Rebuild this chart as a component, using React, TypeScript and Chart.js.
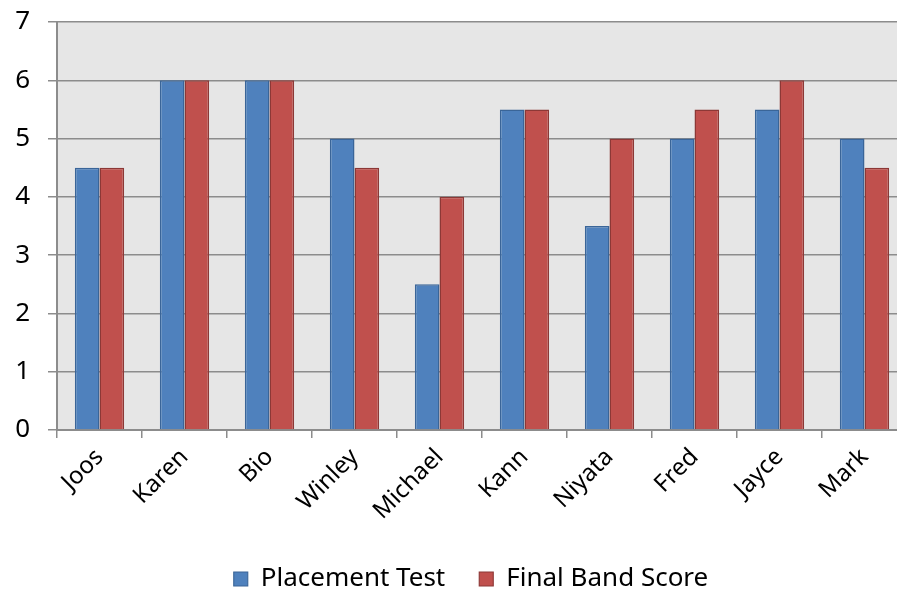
import React, { useEffect, useRef } from "react";
import { Chart, registerables } from "chart.js";

Chart.register(...registerables);

const categories = ["Joos", "Karen", "Bio", "Winley", "Michael", "Kann", "Niyata", "Fred", "Jayce", "Mark"];
const placementTest = [4.5, 6, 6, 5, 2.5, 5.5, 3.5, 5, 5.5, 5];
const finalBandScore = [4.5, 6, 6, 4.5, 4, 5.5, 5, 5.5, 6, 4.5];
const yTicks = [0, 1, 2, 3, 4, 5, 6, 7];

const FONT = "'Noto Sans', sans-serif";

const plotBg = {
  id: "plotBg",
  beforeDraw(chart: any) {
    const { ctx, chartArea } = chart;
    ctx.save();
    ctx.fillStyle = "#e6e6e6";
    ctx.fillRect(chartArea.left, chartArea.top, chartArea.right - chartArea.left, chartArea.bottom - chartArea.top);
    ctx.restore();
  },
};

const legendShift = {
  id: "legendShift",
  afterLayout(chart: any) {
    const lg = chart.legend;
    if (lg) {
      lg.left -= 11;
      lg.right -= 11;
    }
  },
};

export default function App() {
  const ref = useRef<HTMLCanvasElement>(null);
  useEffect(() => {
    const chart = new Chart(ref.current!, {
      type: "bar",
      data: {
        labels: categories,
        datasets: [
          {
            label: "Placement Test",
            data: placementTest,
            backgroundColor: "#4f81bd",
            borderColor: "#3a6598",
            borderWidth: { top: 1.5, left: 1.5, right: 1.5, bottom: 0 },
            borderSkipped: "bottom",
          },
          {
            label: "Final Band Score",
            data: finalBandScore,
            backgroundColor: "#c0504d",
            borderColor: "#8c3836",
            borderWidth: { top: 1.5, left: 1.5, right: 1.5, bottom: 0 },
            borderSkipped: "bottom",
          },
        ],
      },
      options: {
        animation: false,
        responsive: false,
        maintainAspectRatio: false,
        layout: { padding: { top: 22, left: 0, right: 0, bottom: -12 } },
        datasets: { bar: { categoryPercentage: 0.58, barPercentage: 1 } },
        scales: {
          x: {
            offset: true,
            grid: { display: true, drawOnChartArea: false, drawTicks: true, tickLength: 8, offset: true, color: "#8c8c8c", lineWidth: 1.5 },
            border: { display: true, color: "#8c8c8c", width: 2 },
            ticks: {
              font: { family: FONT, size: 24 },
              color: "#000",
              minRotation: 45,
              maxRotation: 45,
              padding: 5,
            },
            afterFit(scale: any) {
              scale.height = 102;
            },
          },
          y: {
            min: 0,
            max: 7,
            afterBuildTicks(scale: any) {
              scale.ticks = yTicks.map((v) => ({ value: v }));
            },
            grid: { color: "#8c8c8c", lineWidth: 1.5, tickLength: 9 },
            border: { display: true, color: "#8c8c8c", width: 2 },
            ticks: {
              font: { family: FONT, size: 26 },
              color: "#000",
              padding: 18,
            },
            afterFit(scale: any) {
              scale.width = 57;
              scale.paddingTop = 0;
            },
          },
        },
        plugins: {
          legend: {
            position: "bottom",
            fullSize: false,
            labels: {
              font: { family: FONT, size: 26 },
              color: "#000",
              boxWidth: 14,
              boxHeight: 14,
              padding: 34,
              useBorderRadius: false,
            },
          },
          tooltip: { enabled: false },
        },
      },
      plugins: [plotBg, legendShift],
    });
    return () => chart.destroy();
  }, []);
  return (
    <div style={{ position: "fixed", left: 0, top: 0, width: 897, height: 590, overflow: "hidden", background: "#fff" }}>
      <canvas ref={ref} width={907} height={590} style={{ display: "block", width: 907, height: 590 }} />
    </div>
  );
}
